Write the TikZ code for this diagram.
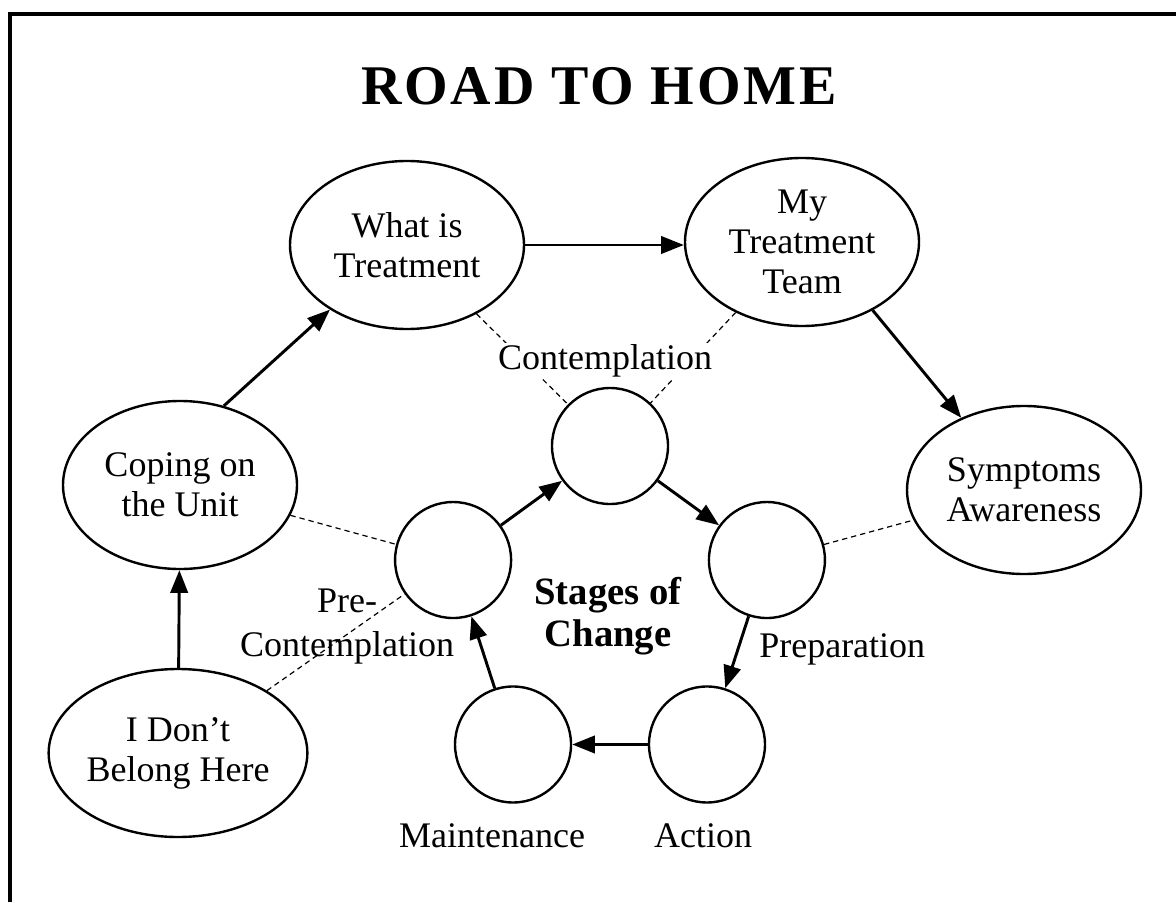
\documentclass[tikz,border=0pt]{standalone}
\usepackage{fontspec}
\setmainfont{Liberation Serif}
\usetikzlibrary{shapes.geometric,arrows.meta}

\tikzset{
  topic/.style={draw, ellipse, line width=1.8pt, inner sep=0pt, minimum width=175.5pt, minimum height=126pt, align=center, font=\fontsize{27}{30}\selectfont},
  stage/.style={draw, circle, line width=1.8pt, inner sep=0pt, minimum size=87pt},
  stagetext/.style={inner sep=0pt, align=center, font=\fontsize{27}{33}\selectfont},
  flow/.style={line width=2.2pt, -{Triangle[length=17pt,width=13pt]}},
  link/.style={line width=0.9pt, dash pattern=on 4pt off 3pt}
}

\begin{document}
\begin{tikzpicture}[x=0.75pt,y=-0.75pt]
\useasboundingbox (0,0) rectangle (1176,902);
\draw [line width=2.6pt] (10,902) -- (10,14) -- (1176,14);

\node [font=\fontsize{42}{42}\selectfont\bfseries\addfontfeature{LetterSpace=5}, anchor=base, inner sep=0pt] (title) at (599,105) {ROAD TO HOME};

%road = [dont, coping, what, team, symptoms]
\node [topic] (dont) at (178,753) {I Don’t\\Belong Here};
\node [topic] (coping) at (180,485) {Coping on\\the Unit};
\node [topic] (what) at (407,245) {What is\\Treatment};
\node [topic] (team) at (802,242) {My\\Treatment\\Team};
\node [topic] (symptoms) at (1024,490) {Symptoms\\Awareness};

\draw [flow] (dont) -- (coping);
\draw [flow] (coping.61) -- (what.220);
\draw [flow] (what.east) -- (what.east -| team.west);
\draw [flow] (team.-44) -- (symptoms.131);

%stages on a pentagon round (610,611)
\foreach \name/\ang in {cont/90, prep/18, act/-54, maint/-126, pre/162}
	\node [stage] (\name) at ({610+165*cos(\ang)},{611-165*sin(\ang)}) {};
\foreach \a/\b in {pre/cont, cont/prep, prep/act, act/maint, maint/pre}
	\draw [flow] (\a) -- (\b);

\draw [link] (what) -- (cont);
\draw [link] (team) -- (cont);
\draw [link] (coping) -- (pre);
\draw [link] (dont) -- (pre);
\draw [link] (prep) -- (symptoms);

\node [stagetext, fill=white, inner sep=1pt, anchor=base] (contname) at (605,369) {Contemplation};
\node [stagetext, anchor=base west] (prepname) at (759,657) {Preparation};
\node [stagetext, anchor=base] (actname) at (703,847) {Action};
\node [stagetext, anchor=base] (maintname) at (492,847) {Maintenance};
\node [stagetext] (prename) at (347,627) {Pre-\\Contemplation};
\node [stagetext, font=\fontsize{29}{32}\selectfont\bfseries] (hub) at (608,616) {Stages of\\Change};
\end{tikzpicture}
\end{document}
